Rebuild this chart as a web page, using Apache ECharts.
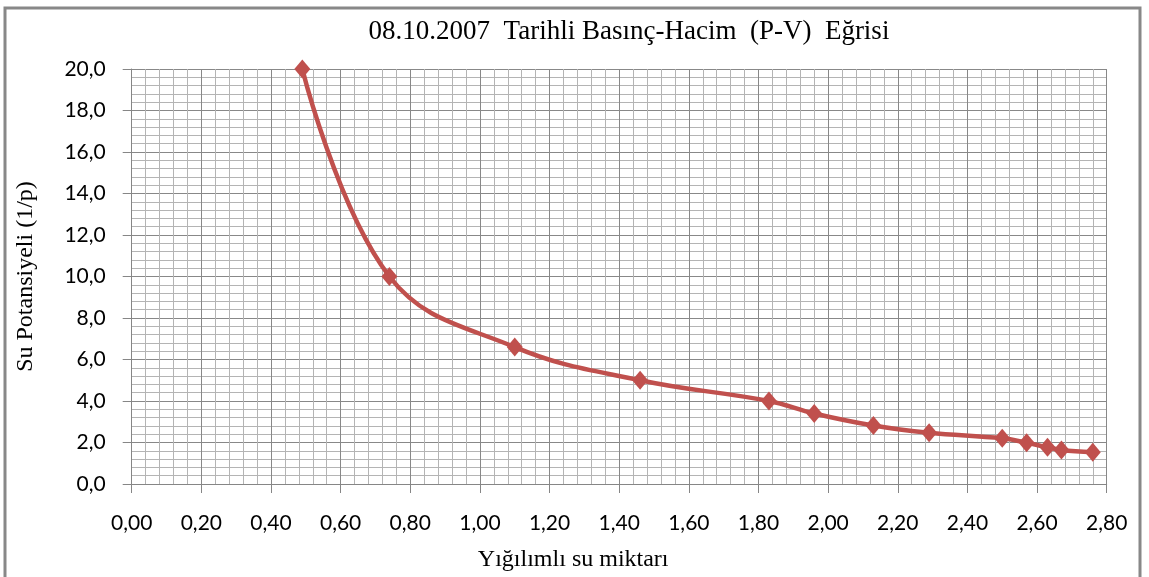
<!DOCTYPE html>
<html>
<head>
<meta charset="utf-8">
<script src="https://cdn.jsdelivr.net/npm/echarts@6/dist/echarts.min.js"></script>
<style>
html,body{margin:0;padding:0;background:#fff;}
#chart{width:1149px;height:577px;}
</style>
</head>
<body>
<div id="chart"></div>
<script>
// Data
var waterAmount = [0.49, 0.74, 1.10, 1.46, 1.83, 1.96, 2.13, 2.29, 2.50, 2.57, 2.63, 2.67, 2.76];
var potential   = [20.0, 10.0, 6.6, 5.0, 4.0, 3.4, 2.82, 2.47, 2.2, 1.99, 1.77, 1.64, 1.53];
var titleText = '08.10.2007  Tarihli Basınç-Hacim  (P-V)  Eğrisi';
var xName = 'Yığılımlı su miktarı';
var yName = 'Su Potansiyeli (1/p)';

var points = waterAmount.map(function (x, i) { return [x, potential[i]]; });

var chart = echarts.init(document.getElementById('chart'), null, {renderer: 'canvas'});
var labelFont = {fontFamily: 'Lato', fontSize: 21, color: '#000'};
var serif = 'Liberation Serif';

chart.setOption({
  animation: false,
  backgroundColor: '#fff',
  title: {
    text: titleText,
    left: 624,
    top: 13,
    textAlign: 'center',
    textStyle: {fontFamily: serif, fontSize: 27, fontWeight: 'normal', color: '#000'}
  },
  graphic: [{
    type: 'rect',
    shape: {x: 5, y: 8, width: 1135, height: 600},
    style: {fill: 'none', stroke: '#888', lineWidth: 3},
    silent: true
  }],
  grid: {left: 131.7, right: 42.3, top: 69, bottom: 93},
  xAxis: {
    type: 'value', min: 0, max: 2.8, interval: 0.2,
    name: xName, nameLocation: 'middle', nameGap: 64,
    nameTextStyle: {fontFamily: serif, fontSize: 24, color: '#000', padding: [0, 92, 0, 0]},
    axisLine: {show: true, lineStyle: {color: '#868686', width: 1}},
    axisTick: {show: true, length: 9, lineStyle: {color: '#868686'}},
    axisLabel: Object.assign({margin: 29, formatter: function (v) { return v.toFixed(2).replace('.', ','); }}, labelFont),
    splitLine: {show: true, lineStyle: {color: '#888', width: 1}},
    minorTick: {show: false, splitNumber: 5},
    minorSplitLine: {show: true, lineStyle: {color: '#b4b4b4', width: 1}}
  },
  yAxis: {
    type: 'value', min: 0, max: 20, interval: 2,
    name: yName, nameLocation: 'middle', nameGap: 94,
    nameTextStyle: {fontFamily: serif, fontSize: 24, color: '#000'},
    axisLine: {show: true, lineStyle: {color: '#868686', width: 1}},
    axisTick: {show: true, length: 9, lineStyle: {color: '#868686'}},
    axisLabel: Object.assign({margin: 26, formatter: function (v) { return v.toFixed(1).replace('.', ','); }}, labelFont),
    splitLine: {show: true, lineStyle: {color: '#888', width: 1}},
    minorTick: {show: false, splitNumber: 5},
    minorSplitLine: {show: true, lineStyle: {color: '#b4b4b4', width: 1}}
  },
  series: [{
    type: 'line',
    data: points,
    smooth: 0.4,
    symbol: 'diamond',
    symbolSize: [16, 19],
    lineStyle: {color: '#C0504D', width: 4.5},
    itemStyle: {color: '#C0504D'}
  }]
});
</script>
</body>
</html>
